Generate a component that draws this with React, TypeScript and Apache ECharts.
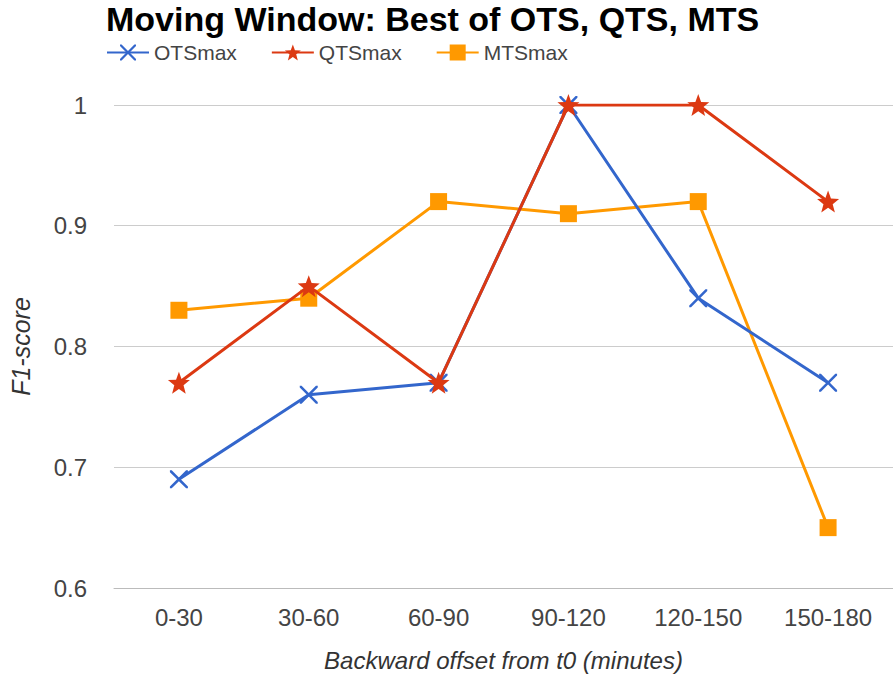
import React, { useEffect, useRef } from "react";
import * as echarts from "echarts";

const categories = ["0-30", "30-60", "60-90", "90-120", "120-150", "150-180"];
const otsMax = [0.69, 0.76, 0.77, 1.0, 0.84, 0.77];
const qtsMax = [0.77, 0.85, 0.77, 1.0, 1.0, 0.92];
const mtsMax = [0.83, 0.84, 0.92, 0.91, 0.92, 0.65];
const yTicks = [0.6, 0.7, 0.8, 0.9, 1];

const X_PATH =
  "path://M0,0 L2,0 L10,8 L18,0 L20,0 L20,2 L12,10 L20,18 L20,20 L18,20 L10,12 L2,20 L0,20 L0,18 L8,10 L0,2 Z";
const STAR_PATH =
  "path://M10,0 L12.6,7.2 L20,7.6 L14.2,12.3 L16.2,20 L10,15.6 L3.8,20 L5.8,12.3 L0,7.6 L7.4,7.2 Z";

export default function App() {
  const ref = useRef<HTMLDivElement>(null);
  useEffect(() => {
    if (!ref.current) return;
    const chart = echarts.init(ref.current, undefined, { renderer: "svg" });
    const font = "'Liberation Sans', Arial, sans-serif";
    chart.setOption({
      animation: false,
      backgroundColor: "#ffffff",
      textStyle: { fontFamily: font },
      title: {
        text: "Moving Window: Best of OTS, QTS, MTS",
        left: 106,
        top: 0,
        padding: 0,
        textStyle: { fontSize: 34, fontWeight: "bold", color: "#000", fontFamily: font, lineHeight: 38 },
      },
      legend: {
        left: 106,
        top: 42,
        padding: 0,
        itemWidth: 42,
        itemHeight: 20,
        itemGap: 34,
        textStyle: { fontSize: 21, color: "#444", fontFamily: font },
        data: ["OTSmax", "QTSmax", "MTSmax"],
      },
      grid: { left: 107, right: 0, top: 105, bottom: 89, containLabel: false },
      xAxis: {
        type: "category",
        data: categories,
        boundaryGap: true,
        name: "Backward offset from t0 (minutes)",
        nameLocation: "middle",
        nameGap: 60,
        nameTextStyle: { fontSize: 24, fontStyle: "italic", color: "#333", fontFamily: font },
        axisLine: { show: true, lineStyle: { color: "#bbb", width: 1 } },
        axisTick: { show: false },
        axisLabel: { fontSize: 24, color: "#444", margin: 17, fontFamily: font },
        splitLine: { show: false },
      },
      yAxis: {
        type: "value",
        min: 0.6,
        max: 1,
        interval: 0.1,
        name: "F1-score",
        nameLocation: "middle",
        nameGap: 81,
        nameRotate: 90,
        nameTextStyle: { fontSize: 25, fontStyle: "italic", color: "#333", fontFamily: font },
        axisLine: { show: false },
        axisTick: { show: false },
        axisLabel: {
          fontSize: 24,
          color: "#444",
          margin: 27,
          fontFamily: font,
          formatter: (v: number) => {
            const t = yTicks.find((x) => Math.abs(x - v) < 1e-6);
            return t === undefined ? "" : String(t);
          },
        },
        splitLine: { show: true, lineStyle: { color: "#ccc", width: 1 } },
      },
      series: [
        {
          name: "OTSmax",
          type: "line",
          data: otsMax,
          color: "#3366cc",
          lineStyle: { width: 3, color: "#3366cc" },
          symbol: X_PATH,
          symbolSize: 18,
          itemStyle: { color: "#3366cc" },
          z: 3,
        },
        {
          name: "QTSmax",
          type: "line",
          data: qtsMax,
          color: "#dc3912",
          lineStyle: { width: 3, color: "#dc3912" },
          symbol: STAR_PATH,
          symbolSize: 22,
          itemStyle: { color: "#dc3912" },
          z: 4,
        },
        {
          name: "MTSmax",
          type: "line",
          data: mtsMax,
          color: "#ff9900",
          lineStyle: { width: 3, color: "#ff9900" },
          symbol: "rect",
          symbolSize: 17,
          itemStyle: { color: "#ff9900" },
          z: 2,
        },
      ],
    });
    return () => chart.dispose();
  }, []);
  return (
    <div
      ref={ref}
      style={{ position: "absolute", left: 0, top: 0, width: 893, height: 677 }}
    />
  );
}
